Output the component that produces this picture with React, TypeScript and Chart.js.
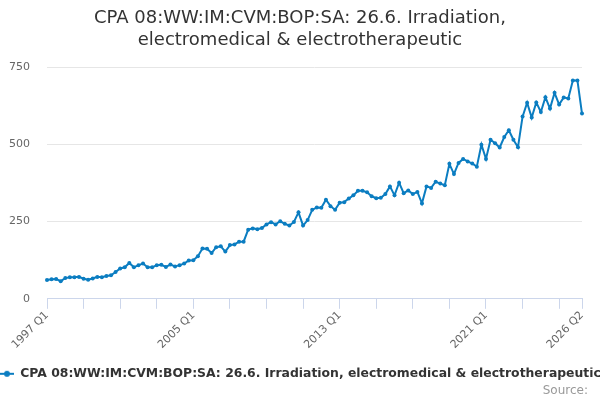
import { useEffect, useRef } from "react";
import { Chart, registerables } from "chart.js";

Chart.register(...registerables);

const TITLE = [
  "CPA 08:WW:IM:CVM:BOP:SA: 26.6. Irradiation,",
  "electromedical & electrotherapeutic",
];
const SERIES_NAME =
  "CPA 08:WW:IM:CVM:BOP:SA: 26.6. Irradiation, electromedical & electrotherapeutic";

const FIRST_YEAR = 1997;
const QUARTER_COUNT = 118; // 1997 Q1 .. 2026 Q2

// quarter labels, 1997 Q1 to 2026 Q2
const quarters: string[] = [];
for (let i = 0; i < QUARTER_COUNT; i++) {
  quarters.push(`${FIRST_YEAR + Math.floor(i / 4)} Q${(i % 4) + 1}`);
}

// values
const values1997to2004 = [
  61, 63, 64, 57, 67, 70, 70, 71, 65, 62, 66, 71, 70, 74, 76, 87,
  98, 102, 116, 102, 109, 114, 102, 102, 109, 110, 103, 111, 105, 109, 114, 124,
];
const values2005to2012 = [
  125, 138, 163, 162, 148, 167, 170, 153, 174, 176, 185, 185, 224, 228, 225, 229,
  241, 248, 241, 251, 243, 237, 249, 280, 237, 255, 288, 296, 295, 321, 300, 288,
];
const values2013to2020 = [
  311, 313, 325, 335, 350, 350, 345, 332, 326, 327, 339, 364, 335, 376, 342, 351,
  339, 346, 309, 364, 359, 379, 373, 368, 437, 404, 440, 453, 445, 438, 428, 499,
];
const values2021to2026 = [
  453, 515, 504, 490, 524, 546, 515, 491, 590, 635, 587, 636, 605, 653, 616, 667,
  629, 652, 649, 707, 707, 600,
];
const values = [
  ...values1997to2004,
  ...values2005to2012,
  ...values2013to2020,
  ...values2021to2026,
];

const yTicks = [0, 250, 500, 750];
const LAST = QUARTER_COUNT - 1;

const LINE_COLOR = "#0b7dc1";
const FONT = "'DejaVu Sans', Verdana, sans-serif";

const App = () => {
  const canvasRef = useRef<HTMLCanvasElement | null>(null);

  useEffect(() => {
    document.body.style.margin = "0";
    if (!canvasRef.current) return;
    const ctx = canvasRef.current.getContext("2d");
    if (!ctx) return;

    // legend symbol: short line with a dot
    const symbol = document.createElement("canvas");
    symbol.width = 14;
    symbol.height = 8;
    const sctx = symbol.getContext("2d");
    if (sctx) {
      sctx.strokeStyle = LINE_COLOR;
      sctx.fillStyle = LINE_COLOR;
      sctx.lineWidth = 2;
      sctx.beginPath();
      sctx.moveTo(0, 4);
      sctx.lineTo(14, 4);
      sctx.stroke();
      sctx.beginPath();
      sctx.arc(7, 4, 3, 0, Math.PI * 2);
      sctx.fill();
    }

    const sourcePlugin = {
      id: "sourceText",
      afterDraw(chart: Chart) {
        const c = chart.ctx;
        c.save();
        c.font = `12px ${FONT}`;
        c.fillStyle = "#999999";
        c.textAlign = "right";
        c.textBaseline = "middle";
        c.fillText("Source:", 588, 391);
        c.restore();
      },
    };

    const chart = new Chart(ctx, {
      type: "line",
      data: {
        labels: quarters,
        datasets: [
          {
            label: SERIES_NAME,
            data: values,
            borderColor: LINE_COLOR,
            backgroundColor: LINE_COLOR,
            borderWidth: 2,
            pointRadius: 2,
            pointBorderWidth: 0,
            pointBackgroundColor: LINE_COLOR,
            tension: 0,
          },
        ],
      },
      options: {
        animation: false,
        responsive: false,
        maintainAspectRatio: false,
        layout: { padding: { left: 0, right: 0, top: 0, bottom: 10 } },
        plugins: {
          title: {
            display: true,
            text: TITLE,
            color: "#333333",
            font: { family: FONT, size: 18, weight: "normal", lineHeight: 1.2 },
            padding: { top: 8, bottom: 16 },
          },
          legend: {
            position: "bottom",
            align: "start",
            labels: {
              usePointStyle: true,
              pointStyle: symbol,
              pointStyleWidth: 14,
              boxHeight: 8,
              padding: 0,
              color: "#333333",
              font: { family: FONT, size: 12.4, weight: "bold" },
            },
          },
          tooltip: { enabled: false },
        },
        scales: {
          x: {
            type: "category",
            offset: false,
            border: { color: "#ccd6eb", width: 1 },
            grid: {
              drawOnChartArea: false,
              drawTicks: true,
              tickLength: 10,
              tickColor: "#ccd6eb",
            },
            afterBuildTicks: (scale: any) => {
              scale.ticks = scale.ticks.filter(
                (t: any) => t.value % 8 === 0 || t.value === LAST
              );
            },
            afterFit: (scale: any) => {
              scale.height = 68.8;
            },
            ticks: {
              autoSkip: false,
              minRotation: 45,
              maxRotation: 45,
              padding: 0,
              color: "#666666",
              font: { family: FONT, size: 11 },
              callback: (value: any) => {
                const v = Number(value);
                return v % 32 === 0 || v === LAST ? quarters[v] : "";
              },
            },
          },
          y: {
            min: 0,
            max: 750,
            border: { display: false },
            grid: { color: "#e6e6e6", drawTicks: false },
            afterBuildTicks: (scale: any) => {
              scale.ticks = yTicks.map((v) => ({ value: v }));
            },
            afterFit: (scale: any) => {
              scale.width = 47;
            },
            ticks: {
              padding: 17,
              color: "#666666",
              font: { family: FONT, size: 11 },
            },
          },
          // empty right-hand axis, keeps the plot's right edge at 582
          spacer: {
            type: "linear",
            position: "right",
            min: 0,
            max: 750,
            border: { display: false },
            grid: { drawOnChartArea: false, drawTicks: false },
            ticks: { display: false },
            afterFit: (scale: any) => {
              scale.width = 18;
            },
          },
        },
      },
      plugins: [sourcePlugin],
    });

    return () => {
      chart.destroy();
    };
  }, []);

  return (
    <div style={{ position: "absolute", left: 0, top: 0, width: 600, height: 400 }}>
      <canvas ref={canvasRef} width={600} height={400} style={{ width: 600, height: 400 }} />
    </div>
  );
};

export default App;
